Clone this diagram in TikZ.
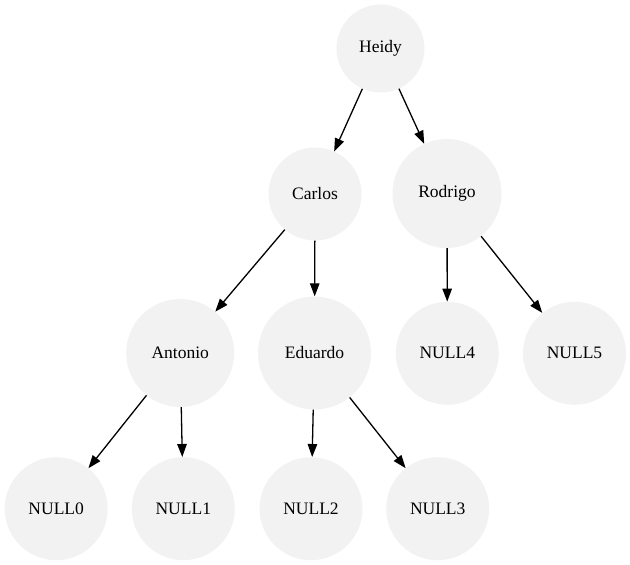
\documentclass[tikz,border=0pt]{standalone}
\usepackage{fontspec}
\setmainfont{Liberation Serif}
\usetikzlibrary{arrows.meta}
\begin{document}
\begin{tikzpicture}[x=1pt,y=-1pt,
  tnode/.style={circle,fill=black!5,draw=none,inner sep=0pt,font=\fontsize{17.5}{20}\selectfont},
  edge/.style={line width=1.3pt,-{Triangle[length=13pt,width=9.5pt]}}]
\useasboundingbox (0,0) rectangle (630,565);
\node[tnode,minimum size=88pt] (heidy) at (380.5,48.5) {Heidy};
\node[tnode,minimum size=93pt] (carlos) at (315,194) {Carlos};
\node[tnode,minimum size=109pt] (rodrigo) at (447,193.5) {Rodrigo};
\node[tnode,minimum size=108pt] (antonio) at (180.2,353) {Antonio};
\node[tnode,minimum size=113pt] (eduardo) at (314.5,353) {Eduardo};
\node[tnode,minimum size=103pt] (null4) at (447.3,353.3) {NULL4};
\node[tnode,minimum size=103pt] (null5) at (574.5,353.3) {NULL5};
\node[tnode,minimum size=103pt] (null0) at (56.2,508.7) {NULL0};
\node[tnode,minimum size=103pt] (null1) at (183.3,508.7) {NULL1};
\node[tnode,minimum size=103pt] (null2) at (311,508.7) {NULL2};
\node[tnode,minimum size=103pt] (null3) at (437.7,508.7) {NULL3};
\draw[edge] (heidy) -- (carlos);
\draw[edge] (heidy) -- (rodrigo);
\draw[edge] (carlos) -- (antonio);
\draw[edge] (carlos) -- (eduardo);
\draw[edge] (rodrigo) -- (null4);
\draw[edge] (rodrigo) -- (null5);
\draw[edge] (antonio) -- (null0);
\draw[edge] (antonio) -- (null1);
\draw[edge] (eduardo) -- (null2);
\draw[edge] (eduardo) -- (null3);
\end{tikzpicture}
\end{document}
